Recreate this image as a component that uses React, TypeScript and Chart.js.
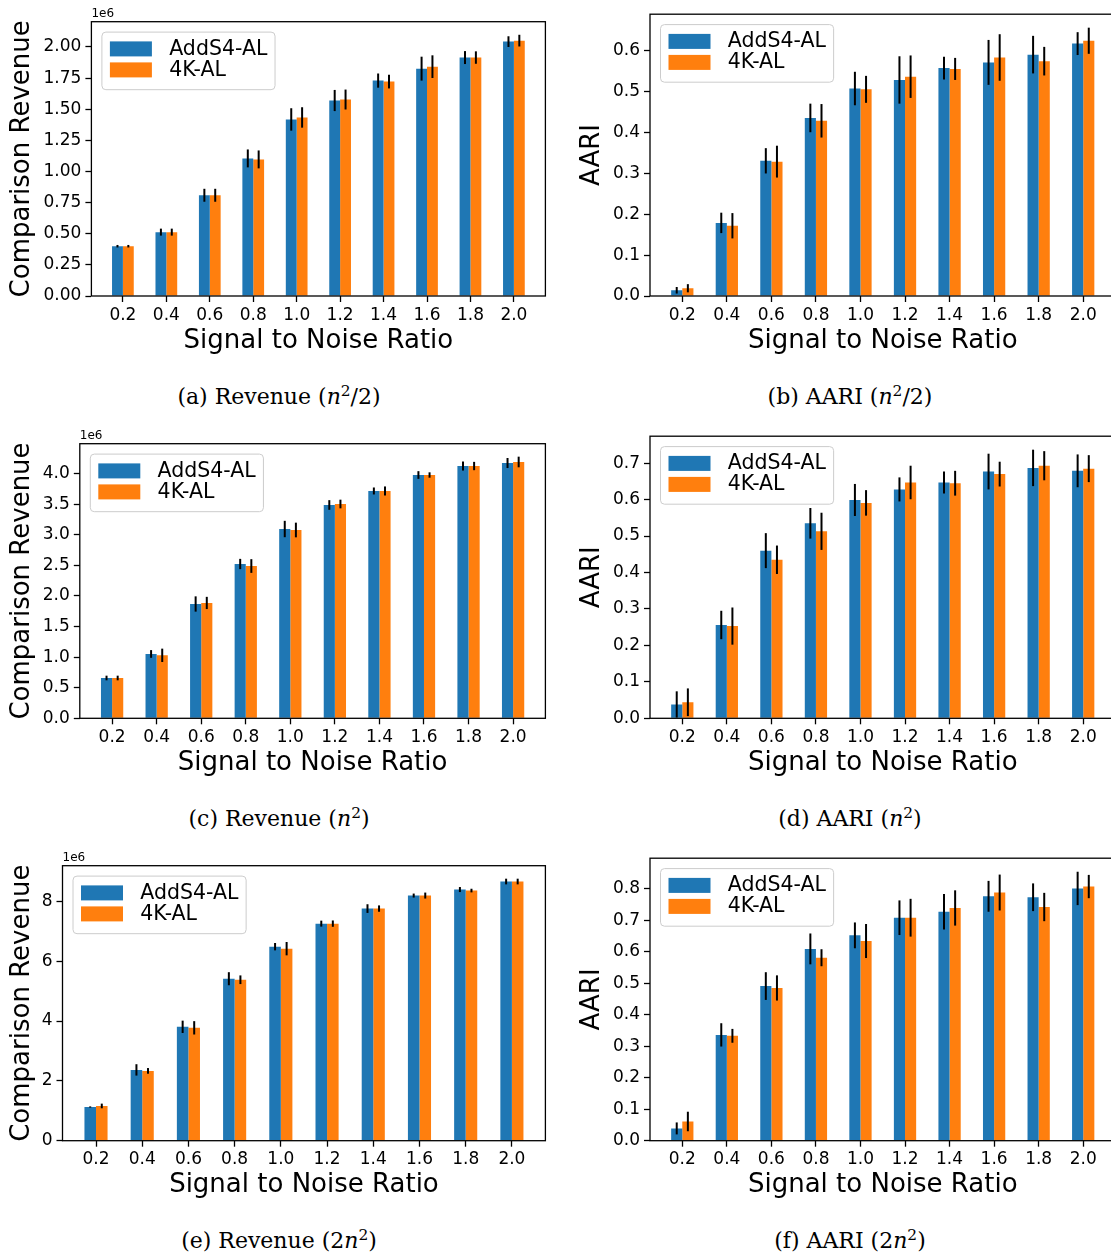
import React, { useEffect, useRef } from 'react';
import { Chart, registerables } from 'chart.js';

Chart.register(...registerables);

// ---------- data ----------
const snrLabels = ['0.2', '0.4', '0.6', '0.8', '1.0', '1.2', '1.4', '1.6', '1.8', '2.0'];
const seriesNames = ['AddS4-AL', '4K-AL'];

// (a) Revenue (n^2/2), in units of 1e6
const revHalfAdd = [0.400, 0.513, 0.809, 1.105, 1.418, 1.570, 1.730, 1.826, 1.915, 2.043];
const revHalfAddErr = [0.010, 0.028, 0.052, 0.072, 0.090, 0.085, 0.057, 0.096, 0.052, 0.043];
const revHalf4K = [0.400, 0.513, 0.809, 1.097, 1.434, 1.578, 1.722, 1.842, 1.915, 2.051];
const revHalf4KErr = [0.010, 0.028, 0.052, 0.072, 0.082, 0.080, 0.055, 0.091, 0.050, 0.047];

// (b) AARI (n^2/2)
const aariHalfAdd = [0.014, 0.179, 0.331, 0.436, 0.508, 0.529, 0.558, 0.572, 0.591, 0.618];
const aariHalfAddErr = [0.008, 0.025, 0.031, 0.035, 0.041, 0.058, 0.028, 0.055, 0.046, 0.028];
const aariHalf4K = [0.019, 0.172, 0.329, 0.429, 0.506, 0.537, 0.556, 0.584, 0.575, 0.625];
const aariHalf4KErr = [0.010, 0.031, 0.039, 0.041, 0.033, 0.052, 0.027, 0.057, 0.035, 0.032];

// (c) Revenue (n^2), in units of 1e6
const revFullAdd = [0.659, 1.052, 1.869, 2.523, 3.095, 3.488, 3.717, 3.978, 4.125, 4.174];
const revFullAddErr = [0.038, 0.063, 0.125, 0.084, 0.134, 0.079, 0.057, 0.063, 0.074, 0.082];
const revFull4K = [0.659, 1.030, 1.886, 2.490, 3.079, 3.504, 3.717, 3.978, 4.125, 4.191];
const revFull4KErr = [0.038, 0.109, 0.100, 0.112, 0.120, 0.071, 0.074, 0.044, 0.068, 0.087];

// (d) AARI (n^2)
const aariFullAdd = [0.038, 0.256, 0.460, 0.535, 0.599, 0.628, 0.647, 0.677, 0.687, 0.679];
const aariFullAddErr = [0.036, 0.039, 0.048, 0.042, 0.044, 0.033, 0.030, 0.049, 0.050, 0.045];
const aariFull4K = [0.044, 0.253, 0.435, 0.513, 0.591, 0.647, 0.645, 0.670, 0.693, 0.685];
const aariFull4KErr = [0.038, 0.051, 0.039, 0.051, 0.035, 0.046, 0.034, 0.034, 0.040, 0.037];

// (e) Revenue (2n^2), in units of 1e6
const revDblAdd = [1.127, 2.366, 3.806, 5.413, 6.484, 7.254, 7.757, 8.192, 8.393, 8.661];
const revDblAddErr = [0.020, 0.190, 0.206, 0.218, 0.123, 0.100, 0.145, 0.067, 0.084, 0.095];
const revDbl4K = [1.161, 2.333, 3.772, 5.379, 6.417, 7.254, 7.757, 8.192, 8.359, 8.661];
const revDbl4KErr = [0.078, 0.095, 0.223, 0.145, 0.223, 0.106, 0.106, 0.100, 0.061, 0.095];

// (f) AARI (2n^2)
const aariDblAdd = [0.039, 0.336, 0.491, 0.609, 0.652, 0.708, 0.727, 0.776, 0.773, 0.801];
const aariDblAddErr = [0.019, 0.037, 0.044, 0.049, 0.041, 0.055, 0.056, 0.049, 0.044, 0.053];
const aariDbl4K = [0.061, 0.333, 0.485, 0.581, 0.634, 0.708, 0.739, 0.788, 0.742, 0.807];
const aariDbl4KErr = [0.031, 0.022, 0.040, 0.027, 0.054, 0.060, 0.056, 0.057, 0.045, 0.037];

// ---------- styles ----------
const COLORS = ['#1f77b4', '#ff7f0e'];
const SANS = '"DejaVu Sans", sans-serif';
const CANVAS_H = 365;

type PanelCfg = {
  key: string;
  x: number; y: number; w: number;
  left: number; top: number; bottom: number; padRight: number;
  yTitle: string; yTitlePad: number;
  ymax: number; step: number; decimals: number;
  offsetText?: string;
  vals: number[][]; errs: number[][];
  caption: React.ReactNode; capX: number; capY: number;
};

const N2 = (pre: string, post: string) => (
  <span>
    {pre}
    <i>n</i>
    <span style={{ fontSize: '0.7em', position: 'relative', top: '-0.55em' }}>2</span>
    {post}
  </span>
);

const panels: PanelCfg[] = [
  {
    key: 'a', x: 0, y: 0, w: 560, left: 91.4, top: 21.7, bottom: 296, padRight: 14.6,
    yTitle: 'Comparison Revenue', yTitlePad: 6.7, ymax: 2.203, step: 0.25, decimals: 2, offsetText: '1e6',
    vals: [revHalfAdd, revHalf4K], errs: [revHalfAddErr, revHalf4KErr],
    caption: <span>(a) Revenue {N2('(', '/2)')}</span>, capX: 279, capY: 397,
  },
  {
    key: 'b', x: 560, y: 0, w: 560, left: 90, top: 6.7, bottom: 296, padRight: 4.5,
    yTitle: 'AARI', yTitlePad: 16.9, ymax: 0.69, step: 0.1, decimals: 1,
    vals: [aariHalfAdd, aariHalf4K], errs: [aariHalfAddErr, aariHalf4KErr],
    caption: <span>(b) AARI {N2('(', '/2)')}</span>, capX: 850, capY: 397,
  },
  {
    key: 'c', x: 0, y: 422, w: 560, left: 79.8, top: 21.7, bottom: 296.3, padRight: 14.6,
    yTitle: 'Comparison Revenue', yTitlePad: 6.7, ymax: 4.49, step: 0.5, decimals: 1, offsetText: '1e6',
    vals: [revFullAdd, revFull4K], errs: [revFullAddErr, revFull4KErr],
    caption: <span>(c) Revenue {N2('(', ')')}</span>, capX: 279, capY: 819,
  },
  {
    key: 'd', x: 560, y: 422, w: 560, left: 90, top: 7.3, bottom: 296.3, padRight: 4.5,
    yTitle: 'AARI', yTitlePad: 16.9, ymax: 0.774, step: 0.1, decimals: 1,
    vals: [aariFullAdd, aariFull4K], errs: [aariFullAddErr, aariFull4KErr],
    caption: <span>(d) AARI {N2('(', ')')}</span>, capX: 850, capY: 819,
  },
  {
    key: 'e', x: 0, y: 844, w: 560, left: 62.5, top: 21.7, bottom: 296.7, padRight: 14.6,
    yTitle: 'Comparison Revenue', yTitlePad: 6.7, ymax: 9.19, step: 2, decimals: 0, offsetText: '1e6',
    vals: [revDblAdd, revDbl4K], errs: [revDblAddErr, revDbl4KErr],
    caption: <span>(e) Revenue {N2('(2', ')')}</span>, capX: 279, capY: 1241,
  },
  {
    key: 'f', x: 560, y: 844, w: 560, left: 90, top: 7, bottom: 296.7, padRight: 4.5,
    yTitle: 'AARI', yTitlePad: 16.9, ymax: 0.897, step: 0.1, decimals: 1,
    vals: [aariDblAdd, aariDbl4K], errs: [aariDblAddErr, aariDbl4KErr],
    caption: <span>(f) AARI {N2('(2', ')')}</span>, capX: 850, capY: 1241,
  },
];

function makeDecor(cfg: PanelCfg) {
  return {
    id: 'decor_' + cfg.key,
    afterDatasetsDraw(chart: any) {
      const ctx = chart.ctx;
      const ys = chart.scales.y;
      chart.data.datasets.forEach((ds: any, d: number) => {
        const meta = chart.getDatasetMeta(d);
        meta.data.forEach((el: any, i: number) => {
          const v = ds.data[i].y;
          const e = ds.errs[i];
          ctx.save();
          ctx.strokeStyle = '#000';
          ctx.lineWidth = 2;
          ctx.beginPath();
          ctx.moveTo(el.x, ys.getPixelForValue(v - e));
          ctx.lineTo(el.x, ys.getPixelForValue(v + e));
          ctx.stroke();
          ctx.restore();
        });
      });
      const ca = chart.chartArea;
      ctx.save();
      ctx.strokeStyle = '#000';
      ctx.lineWidth = 1.3;
      ctx.strokeRect(ca.left, ca.top, ca.right - ca.left, ca.bottom - ca.top);
      ctx.restore();
    },
    afterDraw(chart: any) {
      const ctx = chart.ctx;
      const ca = chart.chartArea;
      ctx.save();
      if (cfg.offsetText) {
        ctx.font = `12px ${SANS}`;
        ctx.fillStyle = '#000';
        ctx.textAlign = 'left';
        ctx.textBaseline = 'alphabetic';
        ctx.fillText(cfg.offsetText, ca.left, ca.top - 4.4);
      }
      // legend
      const fs = 20.5;
      ctx.font = `${fs}px ${SANS}`;
      const names = chart.data.datasets.map((d: any) => d.label);
      const tw = Math.max(...names.map((n: string) => ctx.measureText(n).width));
      const bx = ca.left + 10.5;
      const by = ca.top + 10.4;
      const bw = 67.3 + tw + 7.7;
      const bh = 57.6;
      ctx.beginPath();
      ctx.roundRect(bx, by, bw, bh, 4);
      ctx.fillStyle = 'rgba(255,255,255,0.8)';
      ctx.fill();
      ctx.strokeStyle = '#cccccc';
      ctx.lineWidth = 1;
      ctx.stroke();
      names.forEach((n: string, k: number) => {
        const cy = by + 16.8 + 21 * k;
        ctx.fillStyle = chart.data.datasets[k].backgroundColor;
        ctx.fillRect(bx + 8, cy - 7.5, 42, 15);
        ctx.fillStyle = '#000';
        ctx.textAlign = 'left';
        ctx.textBaseline = 'middle';
        ctx.fillText(n, bx + 67.3, cy + 0.5);
      });
      ctx.restore();
    },
  };
}

function Panel({ cfg }: { cfg: PanelCfg }) {
  const ref = useRef<HTMLCanvasElement>(null);
  useEffect(() => {
    const gridOpts = {
      display: true,
      drawOnChartArea: false,
      drawTicks: true,
      tickLength: 6,
      tickWidth: 1.3,
      tickColor: '#000',
      offset: false,
    };
    const chart = new Chart(ref.current as HTMLCanvasElement, {
      type: 'bar',
      data: {
        datasets: cfg.vals.map((vals, k) => ({
          label: seriesNames[k],
          data: vals.map((v, i) => ({ x: i, y: v })),
          errs: cfg.errs[k],
          backgroundColor: COLORS[k],
          borderWidth: 0,
          categoryPercentage: 0.5,
          barPercentage: 1.0,
        })) as any,
      },
      options: {
        responsive: false,
        animation: false,
        devicePixelRatio: 1,
        layout: { padding: { left: 0, right: cfg.padRight, top: cfg.top, bottom: 0 } },
        plugins: { legend: { display: false }, tooltip: { enabled: false } },
        scales: {
          x: {
            type: 'linear',
            min: -0.725,
            max: 9.725,
            offset: false,
            afterBuildTicks: (s: any) => {
              s.ticks = snrLabels.map((_, i) => ({ value: i }));
            },
            afterFit: (s: any) => {
              s.height = CANVAS_H - cfg.bottom;
            },
            ticks: {
              autoSkip: false,
              maxRotation: 0,
              padding: 3,
              color: '#000',
              font: { family: SANS, size: 17 },
              callback: (v: any) => snrLabels[Math.round(v)],
            },
            grid: gridOpts,
            border: { display: false },
            title: {
              display: true,
              text: 'Signal to Noise Ratio',
              color: '#000',
              font: { family: SANS, size: 26 },
              padding: { top: 0, bottom: 7.9 },
            },
          } as any,
          y: {
            type: 'linear',
            min: 0,
            max: cfg.ymax,
            afterFit: (s: any) => {
              s.width = cfg.left;
            },
            ticks: {
              stepSize: cfg.step,
              includeBounds: false,
              padding: 4,
              color: '#000',
              font: { family: SANS, size: 17 },
              callback: (v: any) => Number(v).toFixed(cfg.decimals),
            },
            grid: gridOpts,
            border: { display: false },
            title: {
              display: true,
              text: cfg.yTitle,
              color: '#000',
              font: { family: SANS, size: 26 },
              padding: { top: cfg.yTitlePad, bottom: 0 },
            },
          } as any,
        },
      },
      plugins: [makeDecor(cfg)],
    });
    return () => chart.destroy();
  }, [cfg]);
  return (
    <canvas
      ref={ref}
      width={cfg.w}
      height={CANVAS_H}
      style={{ position: 'absolute', left: cfg.x, top: cfg.y, width: cfg.w, height: CANVAS_H }}
    />
  );
}

export default function App() {
  return (
    <div
      style={{
        position: 'absolute',
        left: 0,
        top: 0,
        width: 1111,
        height: 1256,
        overflow: 'hidden',
        background: '#fff',
      }}
    >
      {panels.map((p) => (
        <Panel key={p.key} cfg={p} />
      ))}
      {panels.map((p) => (
        <div
          key={'cap' + p.key}
          style={{
            position: 'absolute',
            left: p.capX - 200,
            top: p.capY - 16,
            width: 400,
            height: 32,
            lineHeight: '32px',
            textAlign: 'center',
            fontFamily: '"DejaVu Serif", serif',
            fontSize: 22,
            color: '#000',
            whiteSpace: 'nowrap',
          }}
        >
          {p.caption}
        </div>
      ))}
    </div>
  );
}
